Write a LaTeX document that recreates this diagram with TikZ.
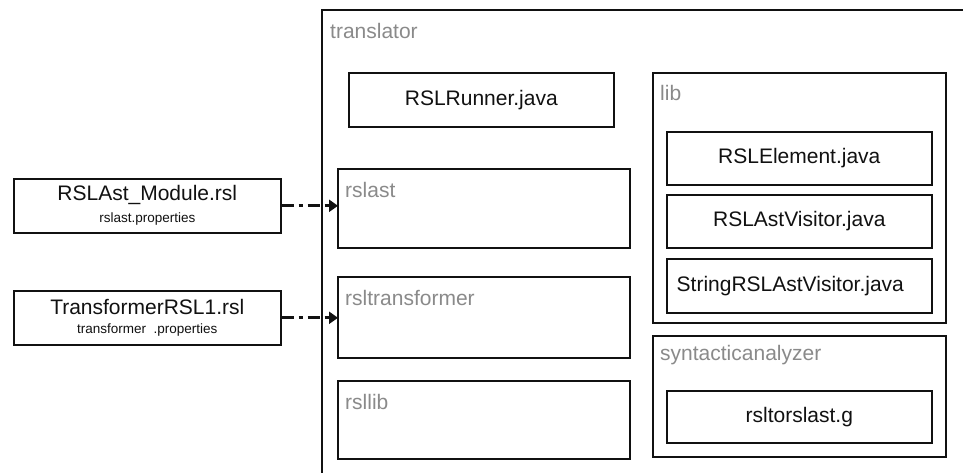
\documentclass[tikz,border=0pt]{standalone}
\usepackage{fontspec}
\setmainfont{Liberation Sans}
\usetikzlibrary{arrows.meta}
\definecolor{labelgray}{HTML}{8A8A8A}
\definecolor{ink}{HTML}{111111}
\begin{document}
\begin{tikzpicture}[x=1pt,y=-1pt,
  box/.style={draw=ink, line width=1.6pt, fill=white, inner sep=0pt, anchor=north west},
  maintext/.style={font=\fontsize{21}{25}\selectfont, text=ink, inner sep=0pt},
  smalltext/.style={font=\fontsize{13.5}{16}\selectfont, text=ink, inner sep=0pt},
  pkglabel/.style={font=\fontsize{21}{25}\selectfont, text=labelgray, inner sep=0pt, anchor=west},
  flow/.style={line width=3.2pt, ink, dash pattern=on 12pt off 5pt on 4pt off 5pt,
    -{Triangle[length=9pt,width=12pt]}, shorten >=-1pt}]
\useasboundingbox (0,0) rectangle (963,473);

% translator package (runs off the page to the right and bottom)
\draw[ink, line width=1.6pt] (322,473) -- (322,10) -- (963,10);
\node[pkglabel] (translatorlbl) at (330,31) {translator};

% main class
\node[box, minimum width=265pt, minimum height=54pt] (runner) at (348,72) {};
\node[maintext] at (runner.center) {RSLRunner.java};

% sub-packages of translator
\node[box, minimum width=292pt, minimum height=79pt] (rslast) at (337,168) {};
\node[pkglabel] at (345,190) {rslast};
\node[box, minimum width=292pt, minimum height=81pt] (rsltrans) at (337,276) {};
\node[pkglabel] at (345,298) {rsltransformer};
\node[box, minimum width=292pt, minimum height=78pt] (rsllib) at (337,380) {};
\node[pkglabel] at (345,402) {rsllib};

% lib package
\node[box, minimum width=293pt, minimum height=250pt] (lib) at (652,72) {};
\node[pkglabel] at (660,93) {lib};
\node[box, minimum width=265pt, minimum height=53pt] (elem) at (666,131) {};
\node[maintext] at (elem.center) {RSLElement.java};
\node[box, minimum width=265pt, minimum height=53pt] (visitor) at (666,194) {};
\node[maintext] at (visitor.center) {RSLAstVisitor.java};
\node[box, minimum width=265pt, minimum height=54pt] (svisitor) at (666,258) {};
\node[maintext] at ([xshift=-9pt]svisitor.center) {StringRSLAstVisitor.java};

% syntactic analyzer package
\node[box, minimum width=293pt, minimum height=121pt] (syn) at (652,335) {};
\node[pkglabel] at (660,355) {syntacticanalyzer};
\node[box, minimum width=265pt, minimum height=52pt] (grammar) at (666,390) {};
\node[maintext] at (grammar.center) {rsltorslast.g};

% input specifications
\node[box, minimum width=267pt, minimum height=54pt] (module) at (13,178) {};
\node[maintext] at ([yshift=-17pt]module.north) {RSLAst\_Module.rsl};
\node[smalltext] at ([yshift=-41pt]module.north) {rslast.properties};
\node[box, minimum width=267pt, minimum height=54pt] (transrsl) at (13,290) {};
\node[maintext] at ([yshift=-17pt]transrsl.north) {TransformerRSL1.rsl};
\node[smalltext] at ([yshift=-40pt]transrsl.north) {transformer\ \ .properties};

% connectors
\draw[flow] (module.east) -- (module.east -| rslast.west);
\draw[flow] (transrsl.east) -- (transrsl.east -| rsltrans.west);
\end{tikzpicture}
\end{document}
